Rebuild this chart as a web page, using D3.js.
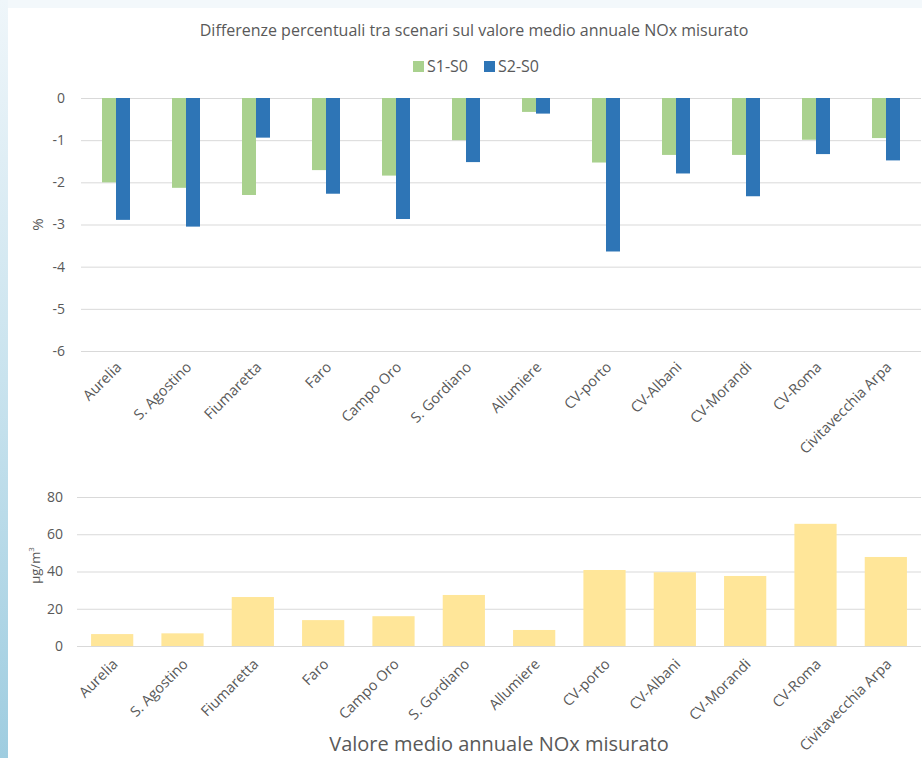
<!DOCTYPE html>
<html>
<head>
<meta charset="utf-8">
<script src="https://cdn.jsdelivr.net/npm/d3@7"></script>
<style>
  html, body { margin: 0; padding: 0; background: #fff; }
  svg { display: block; font-family: "Open Sans", "DejaVu Sans", sans-serif; }
</style>
</head>
<body>
<svg id="chart" width="922" height="758"></svg>
<script>
// Monitoring stations
const stations = ["Aurelia", "S. Agostino", "Fiumaretta", "Faro", "Campo Oro", "S. Gordiano",
  "Allumiere", "CV-porto", "CV-Albani", "CV-Morandi", "CV-Roma", "Civitavecchia Arpa"];

// Percentage difference between scenarios (%)
const s1s0 = [-2.00, -2.13, -2.30, -1.71, -1.84, -1.00, -0.33, -1.53, -1.35, -1.35, -0.99, -0.95];
const s2s0 = [-2.89, -3.05, -0.94, -2.27, -2.87, -1.52, -0.37, -3.64, -1.79, -2.33, -1.33, -1.48];

// Measured annual mean NOx (µg/m³)
const noxMean = [6.4, 6.8, 26.3, 13.9, 16.0, 27.4, 8.6, 40.8, 39.6, 37.6, 65.6, 47.8];

const seriesNames = ["S1-S0", "S2-S0"];
const seriesColors = ["#a9d18e", "#2e75b6"];
const diffTicks = [0, -1, -2, -3, -4, -5, -6];
const noxTicks = [0, 20, 40, 60, 80];

const svg = d3.select("#chart");
const W = 922, H = 758;
const textColor = "#595959";
const gridColor = "#d9d9d9";
const font = "'Open Sans', sans-serif";

// Page background: light frame with a blue strip on the left edge
const defs = svg.append("defs");
const grad = defs.append("linearGradient").attr("id", "edge").attr("x1", 0).attr("y1", 0).attr("x2", 0).attr("y2", 1);
grad.append("stop").attr("offset", "0%").attr("stop-color", "#eff6fa");
grad.append("stop").attr("offset", "50%").attr("stop-color", "#c9e3ee");
grad.append("stop").attr("offset", "100%").attr("stop-color", "#9fcde0");
svg.append("rect").attr("width", W).attr("height", H).attr("fill", "#f3f8fb");
svg.append("rect").attr("width", 8).attr("height", H).attr("fill", "url(#edge)");
svg.append("rect").attr("x", 8).attr("y", 8).attr("width", W - 8).attr("height", H - 8).attr("fill", "#fff");

function styleAxis(g) {
  g.select(".domain").remove();
  g.selectAll(".tick line").attr("stroke", gridColor).attr("stroke-width", 1);
  g.selectAll(".tick text").attr("fill", textColor).attr("font-size", 14).attr("font-family", font);
}

function styleCategoryAxis(g, shiftY) {
  g.select(".domain").remove();
  g.selectAll(".tick text")
    .attr("fill", textColor).attr("font-size", 14.5).attr("font-family", font)
    .attr("text-anchor", "end").attr("dy", null).attr("y", 0)
    .attr("transform", `translate(6,${shiftY}) rotate(-45)`);
}

// ---------- Top chart: percentage differences ----------
const upper = { left: 81, right: 921, top: 98, bottom: 351 };

svg.append("text")
  .attr("x", 474).attr("y", 36)
  .attr("text-anchor", "middle")
  .attr("font-size", 16).attr("fill", textColor)
  .text("Differenze percentuali tra scenari sul valore medio annuale NOx misurato");

// Legend
const legend = svg.append("g");
const legendX = [413, 484];
seriesNames.forEach((name, i) => {
  legend.append("rect").attr("x", legendX[i]).attr("y", 61).attr("width", 11).attr("height", 11)
    .attr("fill", seriesColors[i]);
  legend.append("text").attr("x", legendX[i] + 14).attr("y", 72)
    .attr("font-size", 16).attr("fill", textColor).text(name);
});

const x0 = d3.scaleBand().domain(stations).range([upper.left, upper.right])
  .paddingInner(0.6).paddingOuter(0.3);
const x1 = d3.scaleBand().domain(seriesNames).range([0, x0.bandwidth()]);
const yTop = d3.scaleLinear().domain([-6, 0]).range([upper.bottom, upper.top]);

svg.append("g")
  .attr("transform", `translate(${upper.left},0)`)
  .call(d3.axisLeft(yTop).tickValues(diffTicks).tickFormat(d => String(d))
    .tickSize(-(upper.right - upper.left)).tickPadding(16))
  .call(styleAxis);

const topData = stations.map((s, i) => ({ station: s, values: [s1s0[i], s2s0[i]] }));
svg.append("g").selectAll("g").data(topData).join("g")
  .attr("transform", d => `translate(${x0(d.station)},0)`)
  .selectAll("rect").data(d => d.values.map((v, j) => ({ key: seriesNames[j], value: v, j })))
  .join("rect")
  .attr("x", d => x1(d.key))
  .attr("width", x1.bandwidth())
  .attr("y", yTop(0))
  .attr("height", d => yTop(d.value) - yTop(0))
  .attr("fill", d => seriesColors[d.j]);

svg.append("g")
  .attr("transform", `translate(0,${upper.bottom})`)
  .call(d3.axisBottom(d3.scalePoint().domain(stations)
    .range([x0(stations[0]) + x0.bandwidth() / 2, x0(stations[11]) + x0.bandwidth() / 2]))
    .tickSize(0).tickPadding(0))
  .call(g => styleCategoryAxis(g, 17));

svg.append("text")
  .attr("transform", `translate(43,${(upper.top + upper.bottom) / 2}) rotate(-90)`)
  .attr("text-anchor", "middle").attr("font-size", 15).attr("fill", textColor)
  .text("%");

// ---------- Bottom chart: measured annual mean ----------
const lower = { left: 77, right: 921, top: 497, bottom: 646 };

const xb = d3.scaleBand().domain(stations).range([lower.left, lower.right])
  .paddingInner(0.4).paddingOuter(0.2);
const yBot = d3.scaleLinear().domain([0, 80]).range([lower.bottom, lower.top]);

svg.append("g")
  .attr("transform", `translate(${lower.left},0)`)
  .call(d3.axisLeft(yBot).tickValues(noxTicks)
    .tickSize(-(lower.right - lower.left)).tickPadding(14))
  .call(styleAxis);

svg.append("g").selectAll("rect").data(stations.map((s, i) => ({ station: s, value: noxMean[i] })))
  .join("rect")
  .attr("x", d => xb(d.station))
  .attr("width", xb.bandwidth())
  .attr("y", d => yBot(d.value))
  .attr("height", d => yBot(0) - yBot(d.value))
  .attr("fill", "#ffe699");

svg.append("g")
  .attr("transform", `translate(0,${lower.bottom})`)
  .call(d3.axisBottom(d3.scalePoint().domain(stations)
    .range([xb(stations[0]) + xb.bandwidth() / 2, xb(stations[11]) + xb.bandwidth() / 2]))
    .tickSize(0).tickPadding(0))
  .call(g => styleCategoryAxis(g, 19));

const unit = svg.append("text")
  .attr("transform", `translate(40,${(lower.top + lower.bottom) / 2 - 6}) rotate(-90)`)
  .attr("text-anchor", "middle").attr("font-size", 13).attr("fill", textColor);
unit.append("tspan").text("µg/m");
unit.append("tspan").attr("font-size", 8).attr("dy", -6).text("3");

svg.append("text")
  .attr("x", (lower.left + lower.right) / 2).attr("y", 751)
  .attr("text-anchor", "middle").attr("font-size", 20).attr("fill", textColor)
  .text("Valore medio annuale NOx misurato");
</script>
</body>
</html>
